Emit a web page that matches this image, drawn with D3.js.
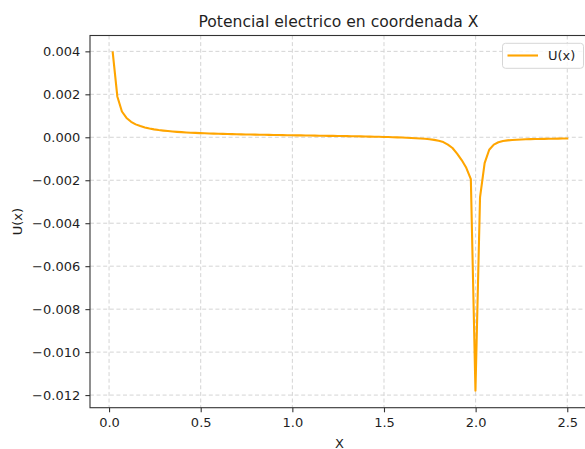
<!DOCTYPE html>
<html>
<head>
<meta charset="utf-8">
<script src="https://cdn.jsdelivr.net/npm/d3@7"></script>
<style>
  html, body { margin: 0; padding: 0; background: #ffffff; }
  svg { display: block; font-family: "DejaVu Sans", sans-serif; }
</style>
</head>
<body>
<svg id="chart" width="585" height="449"></svg>
<script>
// Sample positions along the X axis
const xs = [
  0.0200, 0.0451, 0.0701, 0.0952, 0.1202, 0.1453, 0.1703, 0.1954, 0.2204, 0.2455,
  0.2705, 0.2956, 0.3206, 0.3457, 0.3707, 0.3958, 0.4208, 0.4459, 0.4709, 0.4960,
  0.5210, 0.5461, 0.5711, 0.5962, 0.6212, 0.6463, 0.6713, 0.6964, 0.7214, 0.7465,
  0.7715, 0.7966, 0.8216, 0.8467, 0.8717, 0.8968, 0.9218, 0.9469, 0.9719, 0.9970,
  1.0220, 1.0471, 1.0721, 1.0972, 1.1222, 1.1473, 1.1723, 1.1974, 1.2224, 1.2475,
  1.2725, 1.2976, 1.3226, 1.3477, 1.3727, 1.3978, 1.4228, 1.4479, 1.4729, 1.4980,
  1.5230, 1.5481, 1.5731, 1.5982, 1.6232, 1.6483, 1.6733, 1.6984, 1.7234, 1.7485,
  1.7735, 1.7986, 1.8236, 1.8487, 1.8737, 1.8988, 1.9238, 1.9489, 1.9739, 1.9990,
  2.0240, 2.0491, 2.0741, 2.0992, 2.1242, 2.1493, 2.1743, 2.1994, 2.2244, 2.2495,
  2.2745, 2.2996, 2.3246, 2.3497, 2.3747, 2.3998, 2.4248, 2.4499, 2.4749, 2.5000
];

// Electric potential U(x) at each sample
const ux = [
  0.00395, 0.00190, 0.00120, 0.00090, 0.00072, 0.00060, 0.00052, 0.000456, 0.000408, 0.000369,
  0.000337, 0.000311, 0.000289, 0.000270, 0.000253, 0.000238, 0.000225, 0.000214, 0.000204, 0.000194,
  0.000186, 0.000178, 0.000170, 0.000164, 0.000157, 0.000152, 0.000146, 0.000141, 0.000136, 0.000131,
  0.000127, 0.000123, 0.000119, 0.000115, 0.000111, 0.000107, 0.000104, 0.000100, 0.000097, 0.000094,
  0.000090, 0.000087, 0.000084, 0.000080, 0.000077, 0.000074, 0.000071, 0.000067, 0.000064, 0.000060,
  0.000057, 0.000053, 0.000049, 0.000045, 0.000041, 0.000037, 0.000032, 0.000027, 0.000022, 0.000016,
  0.000010, 0.000004, -0.000004, -0.000012, -0.000021, -0.000031, -0.000042, -0.000056, -0.000072, -0.000092,
  -0.000120, -0.000165, -0.000225, -0.000340, -0.000500, -0.000760, -0.001060, -0.001420, -0.001950, -0.011800,
  -0.002800, -0.001200, -0.000580, -0.000340, -0.000230, -0.000175, -0.000145, -0.000125, -0.000112, -0.000102,
  -0.000094, -0.000088, -0.000083, -0.000078, -0.000074, -0.000070, -0.000066, -0.000063, -0.000060, -0.000057
];

const xTicks = [0.0, 0.5, 1.0, 1.5, 2.0, 2.5];
const yTicks = [-0.012, -0.010, -0.008, -0.006, -0.004, -0.002, 0.000, 0.002, 0.004];

const titleText = "Potencial electrico en coordenada X";
const xLabel = "X";
const yLabel = "U(x)";
const seriesName = "U(x)";

const W = 585, H = 449;
const plot = { left: 90, right: 590, top: 35.5, bottom: 407.7 };
const lineColor = "#ffa500";
const inkColor = "#1f1f1f";

// Autoscale with a 5% margin on each side
function padded(ext) {
  const m = (ext[1] - ext[0]) * 0.05;
  return [ext[0] - m, ext[1] + m];
}

const x = d3.scaleLinear().domain(padded(d3.extent(xs))).range([plot.left, plot.right]);
const y = d3.scaleLinear().domain(padded(d3.extent(ux))).range([plot.bottom, plot.top]);

const svg = d3.select("#chart");

svg.append("defs").append("clipPath").attr("id", "plot-clip")
  .append("rect")
  .attr("x", plot.left).attr("y", plot.top)
  .attr("width", plot.right - plot.left).attr("height", plot.bottom - plot.top);

// Dashed grid
const grid = svg.append("g").attr("clip-path", "url(#plot-clip)");
grid.selectAll("line.gx").data(xTicks).join("line")
  .attr("class", "gx")
  .attr("x1", d => x(d)).attr("x2", d => x(d))
  .attr("y1", plot.top).attr("y2", plot.bottom);
grid.selectAll("line.gy").data(yTicks).join("line")
  .attr("class", "gy")
  .attr("x1", plot.left).attr("x2", plot.right)
  .attr("y1", d => y(d)).attr("y2", d => y(d));
grid.selectAll("line")
  .attr("stroke", "#d4d4d4")
  .attr("stroke-width", 1)
  .attr("stroke-dasharray", "4,2.6");

// Potential curve
const pts = xs.map((v, i) => [v, ux[i]]);
svg.append("path")
  .datum(pts)
  .attr("clip-path", "url(#plot-clip)")
  .attr("fill", "none")
  .attr("stroke", lineColor)
  .attr("stroke-width", 2.1)
  .attr("stroke-linejoin", "round")
  .attr("stroke-linecap", "square")
  .attr("d", d3.line().x(d => x(d[0])).y(d => y(d[1])));

// Axes
const fmtX = d3.format(".1f");
const fmtY = v => d3.format(".3f")(v).replace("-", "\u2212");

const xAxis = svg.append("g")
  .attr("transform", `translate(0,${plot.bottom})`)
  .call(d3.axisBottom(x).tickValues(xTicks).tickFormat(fmtX).tickSize(4.6).tickPadding(5.5));
const yAxis = svg.append("g")
  .attr("transform", `translate(${plot.left},0)`)
  .call(d3.axisLeft(y).tickValues(yTicks).tickFormat(fmtY).tickSize(4.6).tickPadding(5.2));

[xAxis, yAxis].forEach(a => {
  a.select(".domain").remove();
  a.selectAll(".tick line").attr("stroke", "#333").attr("stroke-width", 1.1);
  a.selectAll(".tick text")
    .attr("fill", inkColor)
    .style("font-family", "'DejaVu Sans', sans-serif")
    .style("font-size", "13px");
});

// Spines
svg.append("rect")
  .attr("x", plot.left).attr("y", plot.top)
  .attr("width", plot.right - plot.left).attr("height", plot.bottom - plot.top)
  .attr("fill", "none")
  .attr("stroke", "#333")
  .attr("stroke-width", 1.1);

// Title and axis labels
svg.append("text")
  .attr("x", 338.5).attr("y", 27.3)
  .attr("text-anchor", "middle")
  .attr("fill", inkColor)
  .style("font-size", "15.6px")
  .text(titleText);

svg.append("text")
  .attr("x", 339.5).attr("y", 447.5)
  .attr("text-anchor", "middle")
  .attr("fill", inkColor)
  .style("font-size", "13px")
  .text(xLabel);

svg.append("text")
  .attr("transform", `translate(21.5,${(plot.top + plot.bottom) / 2}) rotate(-90)`)
  .attr("text-anchor", "middle")
  .attr("fill", inkColor)
  .style("font-size", "13px")
  .text(yLabel);

// Legend
const lg = svg.append("g").attr("transform", "translate(502.5,43.3)");
lg.append("rect")
  .attr("width", 81).attr("height", 25)
  .attr("rx", 3).attr("ry", 3)
  .attr("fill", "#ffffff").attr("fill-opacity", 0.8)
  .attr("stroke", "#d6d6d6").attr("stroke-width", 1);
lg.append("line")
  .attr("x1", 5).attr("x2", 35.5)
  .attr("y1", 12.2).attr("y2", 12.2)
  .attr("stroke", lineColor).attr("stroke-width", 2.1);
lg.append("text")
  .attr("x", 45.5).attr("y", 16.8)
  .attr("fill", inkColor)
  .style("font-size", "13px")
  .text(seriesName);
</script>
</body>
</html>
